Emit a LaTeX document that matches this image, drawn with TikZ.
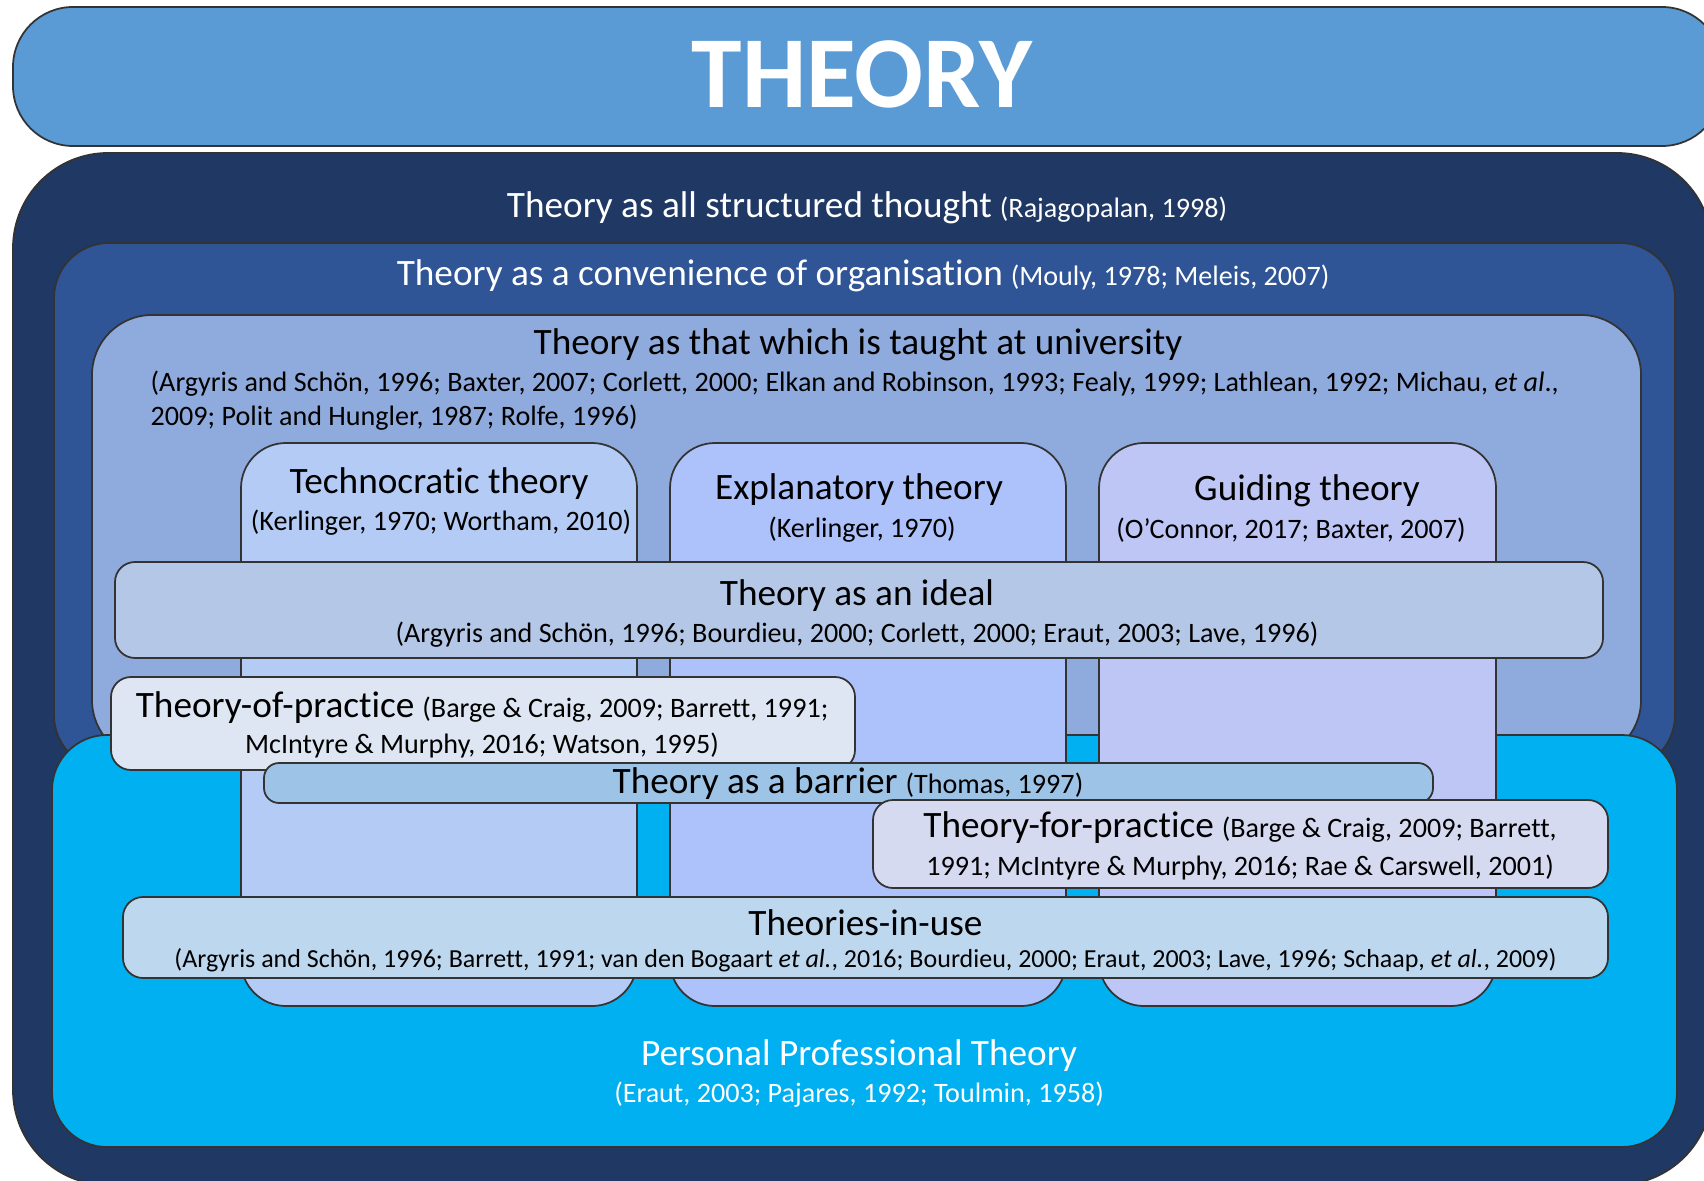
\documentclass[tikz,border=0pt]{standalone}
\usepackage{fontspec}
\setmainfont[Ligatures=NoCommon]{Carlito}
\usepackage{tikz}
\definecolor{titleblue}{HTML}{5B9BD5}
\definecolor{navyblue}{HTML}{203864}
\definecolor{orgblue}{HTML}{2F5597}
\definecolor{unilight}{HTML}{8FAADC}
\definecolor{ppcyan}{HTML}{00B0F0}
\definecolor{techcol}{HTML}{B4CCF5}
\definecolor{explcol}{HTML}{ADC1FA}
\definecolor{guidcol}{HTML}{BDC6F4}
\definecolor{idealcol}{HTML}{B4C7E7}
\definecolor{ofpraccol}{HTML}{DDE6F2}
\definecolor{barriercol}{HTML}{9DC3E6}
\definecolor{forpraccol}{HTML}{D6DAF1}
\definecolor{inusecol}{HTML}{BDD7EE}
\newcommand{\hfnt}{\fontsize{10.6}{12.7}\selectfont}
\newcommand{\cfnt}{\fontsize{8}{9.6}\selectfont}
\newcommand{\sfnt}{\fontsize{7.4}{8.9}\selectfont}
\newcommand{\tfnt}{\fontsize{29}{34}\selectfont\bfseries}

\begin{document}
\begin{tikzpicture}
[panel/.style={rectangle,draw=black!80,line width=0.5pt,inner sep=0pt,outer sep=0pt},
lbl/.style={inner sep=0pt,anchor=base}]
\useasboundingbox (0,0) rectangle (17.04,11.80);
\clip (0,0) rectangle (17.04,11.80);
\fill[white] (0,0) rectangle (17.04,11.80);

% outer bands
\node (theory) at (8.675,11.035)[panel,fill=titleblue,rounded corners=0.6cm,minimum width=17.09cm,minimum height=1.39cm] {};
\node (allthought) at (8.625,5.11)[panel,fill=navyblue,rounded corners=0.95cm,minimum width=16.99cm,minimum height=10.32cm] {};
\node (organise) at (8.645,6.735)[panel,fill=orgblue,rounded corners=0.55cm,minimum width=16.21cm,minimum height=5.27cm] {};
\node (taught) at (8.665,6.425)[panel,fill=unilight,rounded corners=0.6cm,minimum width=15.49cm,minimum height=4.45cm] {};
\node (personal) at (8.645,2.39)[panel,fill=ppcyan,rounded corners=0.55cm,minimum width=16.25cm,minimum height=4.12cm] {};

% columns
\node (tech) at (4.39,4.555)[panel,fill=techcol,rounded corners=0.45cm,minimum width=3.96cm,minimum height=5.63cm] {};
\node (expl) at (8.68,4.555)[panel,fill=explcol,rounded corners=0.45cm,minimum width=3.96cm,minimum height=5.63cm] {};
\node (guid) at (12.975,4.555)[panel,fill=guidcol,rounded corners=0.45cm,minimum width=3.97cm,minimum height=5.63cm] {};

% cross bars
\node (ideal) at (8.59,5.70)[panel,fill=idealcol,rounded corners=0.2cm,minimum width=14.88cm,minimum height=0.96cm] {};
\node (ofprac) at (4.83,4.565)[panel,fill=ofpraccol,rounded corners=0.2cm,minimum width=7.44cm,minimum height=0.93cm] {};
\node (barrier) at (8.485,3.97)[panel,fill=barriercol,rounded corners=0.15cm,minimum width=11.69cm,minimum height=0.40cm] {};
\node (forprac) at (12.405,3.36)[panel,fill=forpraccol,rounded corners=0.2cm,minimum width=7.35cm,minimum height=0.88cm] {};
\node (inuse) at (8.655,2.425)[panel,fill=inusecol,rounded corners=0.2cm,minimum width=14.85cm,minimum height=0.81cm] {};

% labels
\node (ttl) at (8.62,10.72)[lbl,text=white] {{\tfnt THEORY}};
\node (l1) at (8.67,9.62)[lbl,text=white] {{\hfnt Theory as all structured thought} {\cfnt (Rajagopalan, 1998)}};
\node (l2) at (8.63,8.94)[lbl,text=white] {{\hfnt Theory as a convenience of organisation} {\cfnt (Mouly, 1978; Meleis, 2007)}};
\node (l3) at (8.58,8.25)[lbl] {{\hfnt Theory as that which is taught at university}};
\node (l3a) at (1.50,7.88)[lbl,anchor=base west] {{\cfnt (Argyris and Schön, 1996; Baxter, 2007; Corlett, 2000; Elkan and Robinson, 1993; Fealy, 1999; Lathlean, 1992; Michau, \textit{et al}.,}};
\node (l3b) at (1.50,7.55)[lbl,anchor=base west] {{\cfnt 2009; Polit and Hungler, 1987; Rolfe, 1996)}};

\node (tech1) at (4.39,6.87)[lbl] {{\hfnt Technocratic theory}};
\node (tech2) at (4.41,6.50)[lbl] {{\cfnt (Kerlinger, 1970; Wortham, 2010)}};
\node (expl1) at (8.59,6.81)[lbl] {{\hfnt Explanatory theory}};
\node (expl2) at (8.62,6.43)[lbl] {{\cfnt (Kerlinger, 1970)}};
\node (guid1) at (13.07,6.80)[lbl] {{\hfnt Guiding theory}};
\node (guid2) at (12.91,6.42)[lbl] {{\cfnt (O’Connor, 2017; Baxter, 2007)}};

\node (ideal1) at (8.57,5.75)[lbl] {{\hfnt Theory as an ideal}};
\node (ideal2) at (8.57,5.38)[lbl] {{\cfnt (Argyris and Schön, 1996; Bourdieu, 2000; Corlett, 2000; Eraut, 2003; Lave, 1996)}};

\node (ofp1) at (4.82,4.63)[lbl] {{\hfnt Theory-of-practice} {\cfnt (Barge \& Craig, 2009; Barrett, 1991;}};
\node (ofp2) at (4.82,4.27)[lbl] {{\cfnt McIntyre \& Murphy, 2016; Watson, 1995)}};
\node (bar1) at (8.48,3.87)[lbl] {{\hfnt Theory as a barrier} {\cfnt (Thomas, 1997)}};
\node (forp1) at (12.40,3.43)[lbl] {{\hfnt Theory-for-practice} {\cfnt (Barge \& Craig, 2009; Barrett,}};
\node (forp2) at (12.40,3.05)[lbl] {{\cfnt 1991; McIntyre \& Murphy, 2016; Rae \& Carswell, 2001)}};

\node (use1) at (8.655,2.45)[lbl] {{\hfnt Theories-in-use}};
\node (use2) at (8.655,2.13)[lbl] {{\sfnt (Argyris and Schön, 1996; Barrett, 1991; van den Bogaart \textit{et al.}, 2016; Bourdieu, 2000; Eraut, 2003; Lave, 1996; Schaap, \textit{et al.}, 2009)}};

\node (pp1) at (8.59,1.15)[lbl,text=white] {{\hfnt Personal Professional Theory}};
\node (pp2) at (8.59,0.78)[lbl,text=white] {{\cfnt (Eraut, 2003; Pajares, 1992; Toulmin, 1958)}};
\end{tikzpicture}
\end{document}
